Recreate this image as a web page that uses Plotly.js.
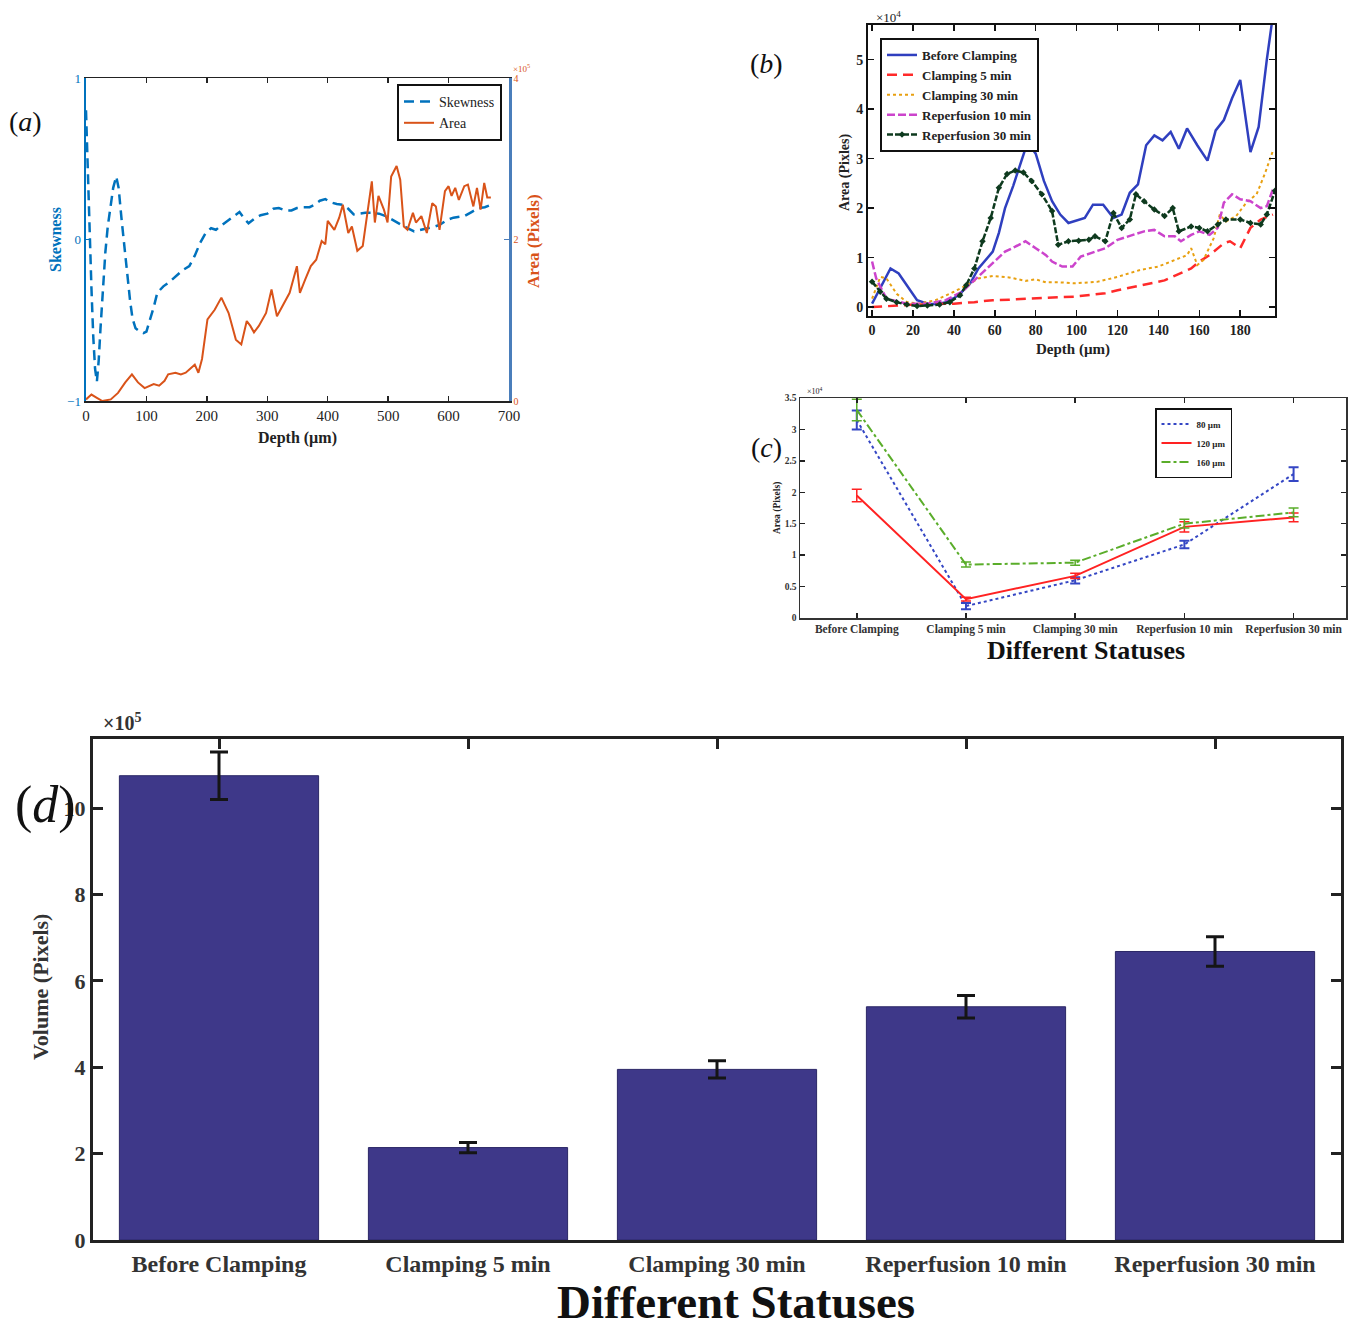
<!DOCTYPE html>
<html><head><meta charset="utf-8">
<script src="https://cdn.plot.ly/plotly-3.0.1.min.js"></script>
<style>body{margin:0;background:#fff}#chart{width:1360px;height:1330px}</style>
</head><body><div id="chart"></div>
<script>
// ---------- Panel (a) ----------
const depthSkew = [0,3,6,9,12,15,18,21,24,28,32,36,41,45,50,54,59,64,68,73,77,82,89,95,100,106,112,118,128,139,150,160,171,180,189,198,207,215,225,236,246,254,262,269,279,289,300,310,319,330,340,349,360,370,378,387,396,405,415,425,434,443,452,462,473,485,496,508,520,532,543,555,567,577,585,597,608,617,626,638,650,660,670];
const skewness = [0.8,0.4,0.0,-0.3,-0.6,-0.8,-0.88,-0.75,-0.55,-0.3,-0.08,0.08,0.23,0.32,0.39,0.32,0.12,-0.06,-0.23,-0.38,-0.49,-0.55,-0.57,-0.58,-0.57,-0.5,-0.42,-0.33,-0.29,-0.26,-0.22,-0.19,-0.165,-0.1,-0.02,0.04,0.07,0.06,0.09,0.12,0.15,0.17,0.13,0.1,0.13,0.15,0.16,0.19,0.195,0.18,0.18,0.195,0.2,0.2,0.215,0.24,0.25,0.23,0.22,0.215,0.19,0.155,0.16,0.165,0.165,0.16,0.145,0.12,0.09,0.07,0.05,0.06,0.07,0.08,0.09,0.12,0.135,0.14,0.145,0.17,0.195,0.2,0.215];
const depthAreaA = [0,9,18,27,41,53,65,76,86,97,112,121,130,136,148,157,165,171,180,186,192,201,213,224,236,248,257,266,272,278,286,298,307,316,325,337,349,354,363,372,381,390,396,400,411,419,425,434,440,449,458,467,473,478,484,493,499,505,514,520,526,532,541,546,555,564,573,579,585,594,600,605,611,617,626,632,641,647,653,659,664,670];
const areaA_e5 = [0.02,0.08,0.04,0,0.02,0.10,0.23,0.33,0.23,0.16,0.21,0.19,0.25,0.33,0.35,0.33,0.35,0.39,0.45,0.35,0.52,1.01,1.13,1.28,1.09,0.76,0.70,0.99,0.93,0.85,0.93,1.09,1.38,1.05,1.18,1.34,1.67,1.34,1.51,1.67,1.75,1.98,1.94,2.23,2.12,2.27,2.43,2.08,2.16,1.86,1.92,2.41,2.72,2.21,2.54,2.37,2.21,2.78,2.91,2.74,2.16,2.12,2.33,2.21,2.29,2.08,2.45,2.41,2.12,2.60,2.66,2.54,2.64,2.49,2.66,2.68,2.41,2.64,2.37,2.70,2.52,2.52];

// ---------- Panel (b) (values x10^4) ----------
const depthBefore = [0,4,9,13,17,22,27,32,36,40,43,48,52,56,59,62,65,69,72,76,80,84,88,92,96,101,104,108,113,118,122,126,130,134,138,142,146,150,154,159,164,168,172,176,180,185,189,193,196];
const areaBefore = [0.07,0.4,0.78,0.68,0.44,0.14,0.07,0.06,0.10,0.18,0.27,0.48,0.78,0.98,1.12,1.5,2.0,2.45,2.82,3.33,3.1,2.55,2.14,1.87,1.70,1.77,1.80,2.07,2.07,1.80,1.87,2.31,2.48,3.27,3.47,3.37,3.54,3.20,3.61,3.27,2.96,3.57,3.78,4.22,4.59,3.13,3.64,5.0,5.9];
const depthClamp5 = [0,10,20,30,40,50,59,67,75,83,91,99,107,114,120,126,131,137,143,149,156,160,165,172,175,180,185,190,196];
const areaClamp5 = [0.0,0.03,0.05,0.06,0.07,0.1,0.14,0.15,0.17,0.19,0.2,0.21,0.24,0.28,0.34,0.39,0.44,0.49,0.54,0.65,0.78,0.92,1.05,1.29,1.33,1.19,1.6,1.77,1.87];
const depthClamp30 = [0,4,7,12,17,23,31,40,48,52,59,67,75,80,85,92,99,110,120,131,140,148,154,156,159,162,167,170,173,178,183,188,192,196];
const areaClamp30 = [0.17,0.61,0.58,0.27,0.10,0.07,0.14,0.31,0.48,0.58,0.63,0.6,0.53,0.56,0.5,0.5,0.48,0.51,0.61,0.75,0.82,0.95,1.05,1.19,0.85,0.95,1.39,1.87,1.73,1.84,2.11,2.28,2.69,3.16];
const depthRep10 = [0,2,7,17,27,36,44,51,59,65,70,75,80,85,88,93,98,102,107,114,120,127,133,138,143,148,151,156,160,165,169,172,176,180,185,190,193,196];
const areaRep10 = [0.92,0.58,0.17,0.07,0.07,0.14,0.31,0.58,0.88,1.12,1.22,1.33,1.19,1.05,0.92,0.82,0.82,1.02,1.09,1.19,1.36,1.46,1.53,1.56,1.43,1.43,1.33,1.46,1.53,1.46,1.60,2.11,2.28,2.18,2.14,2.0,2.04,2.38];
const depthRep30 = [0,4,7,12,17,22,27,33,38,43,46,50,54,58,62,66,70,74,78,83,88,91,96,101,106,109,114,118,122,126,129,133,138,143,147,150,156,160,164,169,173,180,185,190,193,197];
const areaRep30 = [0.51,0.31,0.17,0.10,0.05,0.02,0.03,0.05,0.10,0.24,0.44,0.78,1.33,1.80,2.41,2.69,2.76,2.72,2.55,2.28,1.94,1.26,1.33,1.34,1.36,1.43,1.33,1.90,1.60,1.77,2.28,2.14,1.97,1.84,2.0,1.53,1.63,1.60,1.53,1.67,1.77,1.77,1.70,1.67,1.87,2.35];

// ---------- Panel (c) (values x10^4) ----------
const statuses = ['Before Clamping','Clamping 5 min','Clamping 30 min','Reperfusion 10 min','Reperfusion 30 min'];
const area80 = [3.15,0.19,0.60,1.17,2.29];
const err80 = [0.15,0.05,0.05,0.06,0.11];
const area120 = [1.95,0.30,0.67,1.45,1.60];
const err120 = [0.10,0.03,0.04,0.08,0.07];
const area160 = [3.31,0.85,0.88,1.50,1.68];
const err160 = [0.17,0.04,0.04,0.07,0.07];

// ---------- Panel (d) (values x10^5) ----------
const volume = [10.75,2.14,3.95,5.40,6.68];
const volumeErr = [0.55,0.12,0.20,0.26,0.34];

const SERIF = "'Liberation Serif', 'Times New Roman', serif";
const W = 1360, H = 1330;
const px = v => v / W;
const py = v => 1 - v / H;

const traces = [
  {x: depthSkew, y: skewness, xaxis:'x', yaxis:'y', mode:'lines', name:'Skewness', legend:'legend',
   line:{color:'#0072BD', width:2.5, dash:'10px,6px'}},
  {x: depthAreaA, y: areaA_e5, xaxis:'x', yaxis:'y2', mode:'lines', name:'Area', legend:'legend',
   line:{color:'#D95319', width:2}},

  {x: depthBefore, y: areaBefore, xaxis:'x2', yaxis:'y3', mode:'lines', name:'Before Clamping', legend:'legend2',
   line:{color:'#2f3fbf', width:2.5}},
  {x: depthClamp5, y: areaClamp5, xaxis:'x2', yaxis:'y3', mode:'lines', name:'Clamping 5 min', legend:'legend2',
   line:{color:'#ff2a2a', width:2.5, dash:'10px,6px'}},
  {x: depthClamp30, y: areaClamp30, xaxis:'x2', yaxis:'y3', mode:'lines', name:'Clamping 30 min', legend:'legend2',
   line:{color:'#e8a010', width:2, dash:'dot'}},
  {x: depthRep10, y: areaRep10, xaxis:'x2', yaxis:'y3', mode:'lines', name:'Reperfusion 10 min', legend:'legend2',
   line:{color:'#cc44cc', width:2.5, dash:'8px,3px'}},
  {x: depthRep30, y: areaRep30, xaxis:'x2', yaxis:'y3', mode:'lines+markers', name:'Reperfusion 30 min', legend:'legend2',
   line:{color:'#0e3a1e', width:2.5, dash:'6px,2px'}, marker:{symbol:'diamond', size:5, color:'#0e3a1e'}},

  {x: statuses, y: area80, xaxis:'x3', yaxis:'y4', mode:'lines', name:'80 µm', legend:'legend3',
   line:{color:'#3446c4', width:2, dash:'dot'},
   error_y:{type:'data', array: err80, color:'#3446c4', thickness:2, width:5}},
  {x: statuses, y: area120, xaxis:'x3', yaxis:'y4', mode:'lines', name:'120 µm', legend:'legend3',
   line:{color:'#ff2222', width:2},
   error_y:{type:'data', array: err120, color:'#ff2222', thickness:1.5, width:5}},
  {x: statuses, y: area160, xaxis:'x3', yaxis:'y4', mode:'lines', name:'160 µm', legend:'legend3',
   line:{color:'#5aad2a', width:2, dash:'dashdot'},
   error_y:{type:'data', array: err160, color:'#5aad2a', thickness:1.5, width:5}},

  {x: statuses, y: volume, xaxis:'x4', yaxis:'y5', type:'bar', width:0.8, showlegend:false,
   marker:{color:'#3e3889', line:{color:'#2b2766', width:1}},
   error_y:{type:'data', array: volumeErr, color:'#151515', thickness:3, width:9}}
];

const baseAxis = {showgrid:false, zeroline:false, showline:true, ticks:'inside', fixedrange:true};

function ann(text, x, y, size, extra) {
  return Object.assign({text, x: px(x), y: py(y), xref:'paper', yref:'paper', showarrow:false,
    xanchor:'center', yanchor:'middle',
    font:{family:SERIF, size, color:'#111'}}, extra || {});
}

const layout = {
  width: W, height: H, margin:{l:0,r:0,t:0,b:0},
  paper_bgcolor:'#fff', plot_bgcolor:'rgba(0,0,0,0)',
  // panel a
  xaxis: Object.assign({}, baseAxis, {domain:[px(86), px(509)], anchor:'y', range:[0,700],
    tickvals:[0,100,200,300,400,500,600,700], ticklen:5, tickwidth:1.5, tickcolor:'#222',
    linecolor:'#222', linewidth:1.5, mirror:'ticks',
    tickfont:{family:SERIF, size:15, color:'#222'}}),
  yaxis: Object.assign({}, baseAxis, {domain:[py(401), py(78)], anchor:'x', range:[-1,1],
    tickvals:[-1,0,1], ticklen:5, tickwidth:1.5, tickcolor:'#0072BD',
    linecolor:'#0072BD', linewidth:2.5,
    tickfont:{family:SERIF, size:13, color:'#0072BD'}}),
  yaxis2: Object.assign({}, baseAxis, {overlaying:'y', side:'right', anchor:'x', range:[0,4],
    tickvals:[0,2,4], ticklen:5, tickwidth:1.5, tickcolor:'#4a7ebb',
    linecolor:'#4a7ebb', linewidth:2.5,
    tickfont:{family:SERIF, size:10, color:'#D95319'}}),
  // panel b
  xaxis2: Object.assign({}, baseAxis, {domain:[px(868), px(1275)], anchor:'y3', range:[-2,197],
    tickvals:[0,20,40,60,80,100,120,140,160,180], ticklen:6, tickwidth:1.5, tickcolor:'#111',
    linecolor:'#111', linewidth:2, mirror:'ticks',
    tickfont:{family:SERIF, size:14, color:'#222', weight:'bold'}}),
  yaxis3: Object.assign({}, baseAxis, {domain:[py(316), py(25)], anchor:'x2', range:[-0.18,5.7],
    tickvals:[0,1,2,3,4,5], ticklen:6, tickwidth:1.5, tickcolor:'#111',
    linecolor:'#111', linewidth:2, mirror:'ticks',
    tickfont:{family:SERIF, size:14, color:'#222', weight:'bold'}}),
  // panel c
  xaxis3: Object.assign({}, baseAxis, {domain:[px(800), px(1346)], anchor:'y4', type:'category',
    range:[-0.52,4.48], ticklen:5, tickwidth:1.5, tickcolor:'#222',
    linecolor:'#333', linewidth:1.5, mirror:'ticks',
    tickfont:{family:SERIF, size:11.5, color:'#333', weight:'bold'}}),
  yaxis4: Object.assign({}, baseAxis, {domain:[py(618), py(398)], anchor:'x3', range:[0,3.5],
    tickvals:[0,0.5,1,1.5,2,2.5,3,3.5], ticktext:['0','0.5','1','1.5','2','2.5','3','3.5'],
    ticklen:5, tickwidth:1.5, tickcolor:'#222',
    linecolor:'#333', linewidth:1.5, mirror:'ticks',
    tickfont:{family:SERIF, size:9.5, color:'#333', weight:'bold'}}),
  // panel d
  xaxis4: Object.assign({}, baseAxis, {domain:[px(93), px(1341)], anchor:'y5', type:'category',
    range:[-0.506,4.506], ticklen:10, tickwidth:3, tickcolor:'#222',
    linecolor:'#222', linewidth:3, mirror:'ticks', layer:'below traces', ticklabelstandoff:0,
    tickfont:{family:SERIF, size:24, color:'#333', weight:'bold'}}),
  yaxis5: Object.assign({}, baseAxis, {domain:[py(1240), py(739)], anchor:'x4', range:[0,11.6],
    tickvals:[0,2,4,6,8,10], ticklen:10, tickwidth:3, tickcolor:'#222',
    linecolor:'#222', linewidth:3, mirror:'ticks',
    tickfont:{family:SERIF, size:22, color:'#333', weight:'bold'}}),

  legend: {x: px(397), y: py(84), xanchor:'left', yanchor:'top', bgcolor:'#fff',
    bordercolor:'#111', borderwidth:2, itemwidth:30, tracegroupgap:0,
    font:{family:SERIF, size:14, color:'#222'}},
  legend2: {x: px(880), y: py(38), xanchor:'left', yanchor:'top', bgcolor:'#fff',
    bordercolor:'#111', borderwidth:2, itemwidth:30, tracegroupgap:0,
    font:{family:SERIF, size:13, color:'#222', weight:'bold'}},
  legend3: {x: px(1155), y: py(408), xanchor:'left', yanchor:'top', bgcolor:'#fff',
    bordercolor:'#111', borderwidth:1.5, itemwidth:30, tracegroupgap:0,
    font:{family:SERIF, size:9, color:'#222', weight:'bold'}},

  annotations: [
    ann('(<i>a</i>)', 25, 121, 28, {font:{family:SERIF, size:28, color:'#111'}}),
    ann('(<i>b</i>)', 766, 63, 28, {font:{family:SERIF, size:28, color:'#111'}}),
    ann('(<i>c</i>)', 766, 447, 28, {font:{family:SERIF, size:28, color:'#111'}}),
    ann('(<i>d</i>)', 45, 805, 52, {font:{family:SERIF, size:52, color:'#111'}}),

    ann('Skewness', 55, 240, 16, {textangle:-90, font:{family:SERIF, size:16, color:'#0072BD', weight:'bold'}}),
    ann('Area (Pixels)', 533, 241, 17, {textangle:-90, font:{family:SERIF, size:17, color:'#D95319', weight:'bold'}}),
    ann('Depth (µm)', 297, 438, 16, {font:{family:SERIF, size:16, color:'#222', weight:'bold'}}),
    ann('×10<sup>5</sup>', 521, 68, 9, {font:{family:SERIF, size:9, color:'#D95319'}}),

    ann('Area (Pixles)', 845, 173, 14, {textangle:-90, font:{family:SERIF, size:14, color:'#222', weight:'bold'}}),
    ann('Depth (µm)', 1073, 349, 15, {font:{family:SERIF, size:15, color:'#222', weight:'bold'}}),
    ann('×10<sup>4</sup>', 888, 17, 13, {font:{family:SERIF, size:13, color:'#222'}}),

    ann('Area (Pixels)', 777, 508, 9.5, {textangle:-90, font:{family:SERIF, size:9.5, color:'#222', weight:'bold'}}),
    ann('Different Statuses', 1086, 650, 26, {font:{family:SERIF, size:26, color:'#111', weight:'bold'}}),
    ann('×10<sup>4</sup>', 815, 391, 8, {font:{family:SERIF, size:8, color:'#222'}}),

    ann('Volume (Pixels)', 40, 987, 22, {textangle:-90, font:{family:SERIF, size:22, color:'#333', weight:'bold'}}),
    ann('Different Statuses', 736, 1302, 47, {font:{family:SERIF, size:47, color:'#111', weight:'bold'}}),
    ann('×10<sup>5</sup>', 122, 722, 20, {font:{family:SERIF, size:20, color:'#333', weight:'bold'}})
  ]
};

Plotly.newPlot('chart', traces, layout, {staticPlot:true, displayModeBar:false});
</script>
</body></html>
